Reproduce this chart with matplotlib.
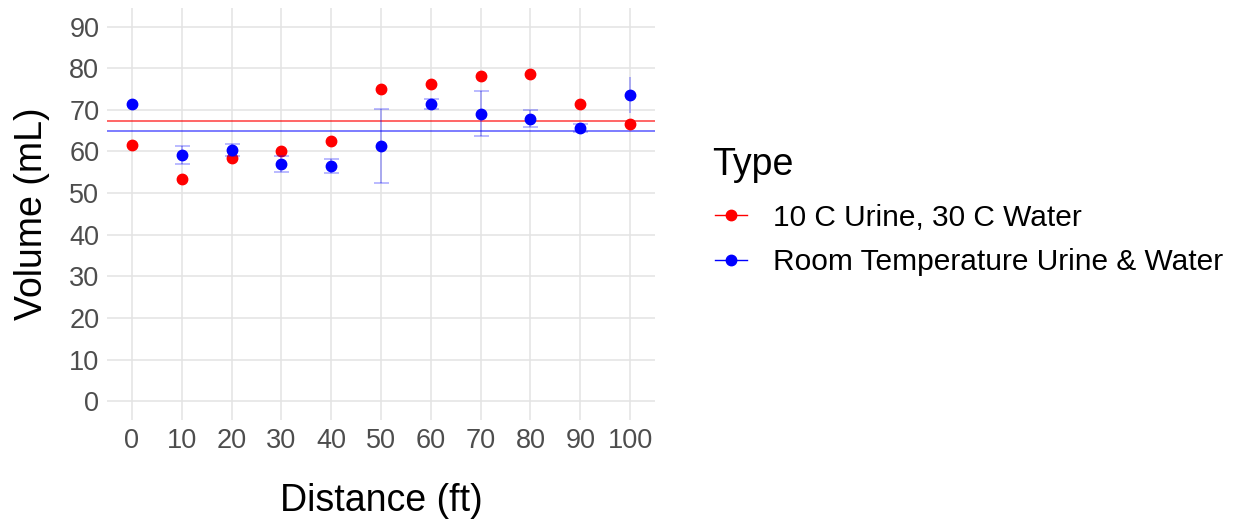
import matplotlib.pyplot as plt
from matplotlib.lines import Line2D

plt.rcParams['font.family'] = ['Liberation Sans', 'DejaVu Sans']

# data
distance = [0, 10, 20, 30, 40, 50, 60, 70, 80, 90, 100]
cold_urine = [61.6, 53.4, 58.4, 60.1, 62.6, 75.0, 76.2, 78.1, 78.5, 71.4, 66.6]
room_temp = [71.5, 59.2, 60.3, 56.9, 56.5, 61.3, 71.4, 69.0, 67.9, 65.6, 73.6]
room_err = [0.0, 2.2, 1.5, 1.9, 1.7, 8.9, 1.3, 5.4, 2.1, 1.0, 4.4]
cold_mean = 67.35
room_mean = 64.8

labels = ["10 C Urine, 30 C Water", "Room Temperature Urine & Water"]
red = "#FF0000"
blue = "#0000FF"

fig = plt.figure(figsize=(12.38, 5.21), dpi=100)
ax = fig.add_axes([0.0864, 0.194, 0.4427, 0.791])

# mean lines
ax.axhline(cold_mean, color=red, lw=1.2, alpha=0.7, zorder=2)
ax.axhline(room_mean, color=blue, lw=1.2, alpha=0.6, zorder=2)

# red points
ax.plot(distance, cold_urine, 'o', color=red, ms=7.5, zorder=3)

# blue error bars (last one drawn without caps, first has none)
ax.errorbar(distance[1:10], room_temp[1:10], yerr=room_err[1:10], fmt='none',
            ecolor=blue, alpha=0.35, elinewidth=1.1, capsize=5.4, capthick=1.1, zorder=4)
ax.errorbar(distance[10:], room_temp[10:], yerr=room_err[10:], fmt='none',
            ecolor=blue, alpha=0.35, elinewidth=1.1, capsize=0, zorder=4)
ax.plot(distance, room_temp, 'o', color=blue, ms=7.5, zorder=5)

ax.set_xlim(-5, 105)
ax.set_ylim(-4.5, 94.5)
ax.set_xticks(range(0, 101, 10))
ax.set_yticks(range(0, 91, 10))
ax.grid(True, color="#E3E3E3", lw=1.1)
ax.set_axisbelow(True)
for s in ax.spines.values():
    s.set_visible(False)
ax.tick_params(length=0, labelsize=19.5, labelcolor="#4D4D4D")
ax.tick_params(axis='y', pad=5.5)
ax.tick_params(axis='x', pad=6)

ax.set_xlabel("Distance (ft)", fontsize=27, labelpad=21)
ax.set_ylabel("Volume (mL)", fontsize=27, labelpad=14)

# legend
fig.text(712 / 1238, 1 - 175 / 521, "Type", fontsize=27, ha='left', va='baseline')
handles = [Line2D([0], [0], color=red, lw=1, alpha=0.6, marker='o', ms=7.5,
                  markerfacecolor=red, markeredgecolor=red),
           Line2D([0], [0], color=blue, lw=1, alpha=0.6, marker='o', ms=7.5,
                  markerfacecolor=blue, markeredgecolor=blue)]
leg = fig.legend(handles, labels, loc="center left",
                 bbox_to_anchor=(0.5557, 1 - 240 / 521), frameon=False, fontsize=21.5,
                 handlelength=1.07, labelspacing=0.55, handletextpad=0.87)
for h in leg.legend_handles:
    h.set_alpha(1)

fig.savefig("out.png", dpi=100)
